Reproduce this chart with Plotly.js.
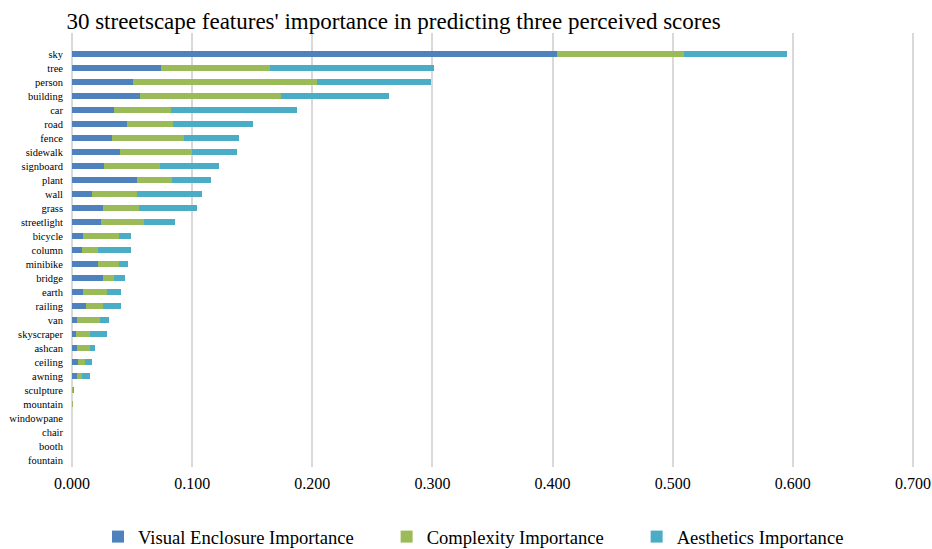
<!DOCTYPE html>
<html>
<head>
<meta charset="utf-8">
<script src="https://cdn.plot.ly/plotly-3.0.1.min.js"></script>
<style>html,body{margin:0;padding:0;background:#fff;}#chart{width:932px;height:549px;}</style>
</head>
<body>
<div id="chart"></div>
<script>
const categories = ["sky","tree","person","building","car","road","fence","sidewalk","signboard","plant","wall","grass","streetlight","bicycle","column","minibike","bridge","earth","railing","van","skyscraper","ashcan","ceiling","awning","sculpture","mountain","windowpane","chair","booth","fountain"];
const visualEnclosure = [0.404,0.074,0.051,0.057,0.035,0.046,0.033,0.040,0.027,0.054,0.017,0.026,0.024,0.009,0.008,0.022,0.026,0.009,0.012,0.004,0.003,0.004,0.005,0.004,0.0003,0.0003,0,0,0,0];
const complexity = [0.105,0.091,0.153,0.117,0.047,0.038,0.060,0.060,0.046,0.029,0.037,0.030,0.036,0.030,0.014,0.017,0.009,0.020,0.014,0.019,0.012,0.011,0.006,0.004,0.0003,0.0003,0,0,0,0];
const aesthetics = [0.086,0.136,0.095,0.090,0.105,0.067,0.046,0.037,0.049,0.033,0.054,0.048,0.026,0.010,0.027,0.008,0.009,0.012,0.015,0.008,0.014,0.004,0.006,0.007,0.0007,0.0006,0,0,0,0];
const seriesNames = ["Visual Enclosure Importance","Complexity Importance","Aesthetics Importance"];
const xTicks = [0,0.1,0.2,0.3,0.4,0.5,0.6,0.7];

const colors = ["#4F81BD","#9BBB59","#4BACC6"];
const serif = "Liberation Serif";
const pad = "\u00A0".repeat(6);
const seriesValues = [visualEnclosure, complexity, aesthetics];
const data = seriesValues.map((vals, i) => ({
  type: "bar",
  orientation: "h",
  name: seriesNames[i] + pad,
  x: vals,
  y: categories,
  marker: {color: colors[i], line: {width: 0}}
}));

const layout = {
  width: 932, height: 549,
  barmode: "stack",
  bargap: 0.58,
  paper_bgcolor: "#ffffff",
  plot_bgcolor: "#ffffff",
  margin: {l: 72, r: 13, t: 33, b: 82},
  title: {
    text: "30 streetscape features' importance in predicting three perceived scores",
    font: {family: serif, size: 23, color: "#000"},
    x: 393.5/932, xref: "container", xanchor: "center",
    y: 1 - 21/549, yref: "container", yanchor: "middle"
  },
  xaxis: {
    range: [0, 0.705],
    tickvals: xTicks,
    tickformat: ".3f",
    showgrid: true, gridcolor: "#D9D9D9", gridwidth: 2,
    zeroline: true, zerolinecolor: "#D9D9D9", zerolinewidth: 2,
    showline: false,
    ticks: "",
    ticklabelstandoff: 5,
    ticklabeloverflow: "allow",
    tickfont: {family: serif, size: 16, color: "#000"}
  },
  yaxis: {
    type: "category",
    categoryorder: "array",
    categoryarray: categories,
    range: [29.5, -1.5],
    showgrid: false, zeroline: false, showline: false,
    ticks: "",
    ticklabelstandoff: 8,
    tickfont: {family: serif, size: 10.5, color: "#000"}
  },
  showlegend: true,
  legend: {
    orientation: "h",
    xref: "container", yref: "container",
    x: 98/932, xanchor: "left",
    y: (549 - 537)/549, yanchor: "middle",
    font: {family: serif, size: 18.6, color: "#000"},
    itemwidth: 30,
    traceorder: "normal"
  }
};

Plotly.newPlot("chart", data, layout, {displayModeBar: false, staticPlot: true});
</script>
</body>
</html>
